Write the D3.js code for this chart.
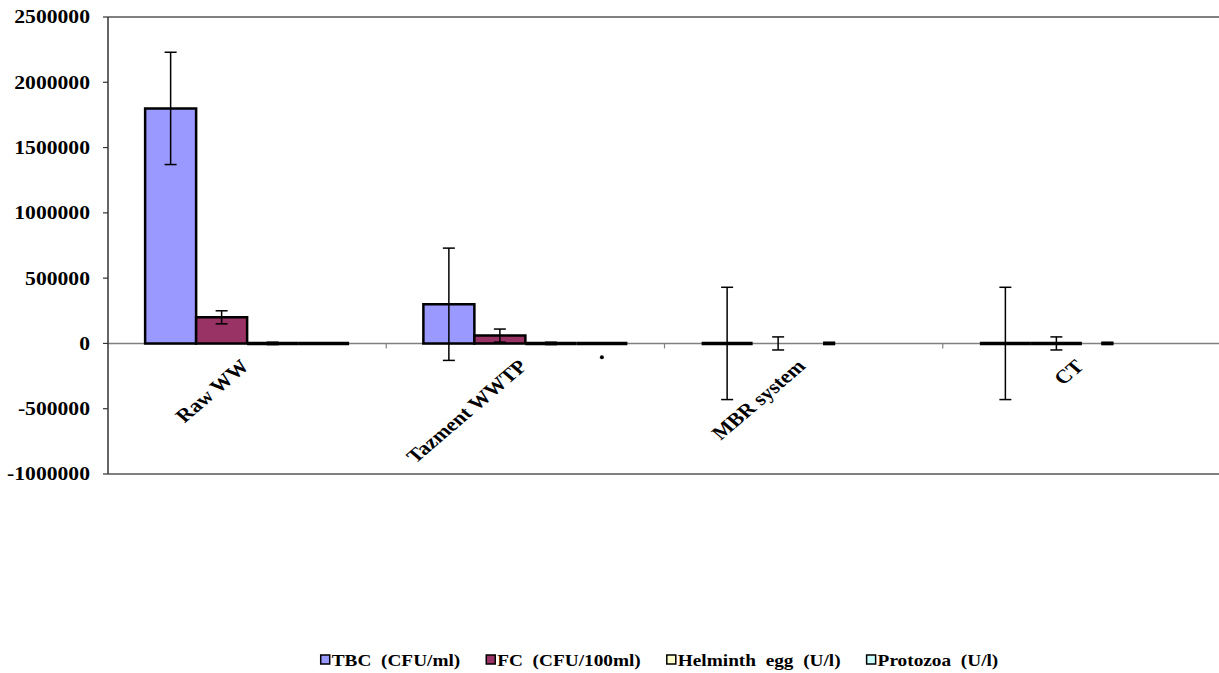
<!DOCTYPE html>
<html>
<head>
<meta charset="utf-8">
<script src="https://cdn.jsdelivr.net/npm/d3@7"></script>
<style>
  body { margin: 0; background: #fff; }
  text { font-family: "Liberation Serif", "Times New Roman", serif; font-weight: bold; fill: #000; }
</style>
</head>
<body>
<script>
// data
var categories = ["Raw WW", "Tazment WWTP", "MBR system", "CT"];
var seriesNames = ["TBC  (CFU/ml)", "FC  (CFU/100ml)", "Helminth  egg  (U/l)", "Protozoa  (U/l)"];
var seriesColors = ["#9999FF", "#993366", "#FFFFCC", "#CCFFFF"];

var tbc = [1800000, 300000, 0, 0];
var fc = [200000, 60000, null, 0];
var helminth = [0, 0, null, null];
var protozoa = [0, 0, null, null];

var tbcErr = [430000, 430000, 430000, 430000];
var fcErr = [50000, 50000, 50000, 50000];
var helminthErr = [0, 0, 0, 0];
var protozoaErr = [null, null, null, null];

// stray point below Tazment protozoa
var protozoaMark = [null, -105000, null, null];

var yTicks = [-1000000, -500000, 0, 500000, 1000000, 1500000, 2000000, 2500000];

var values = [tbc, fc, helminth, protozoa];
var errors = [tbcErr, fcErr, helminthErr, protozoaErr];

// the picture is stretched sideways a little
var SX = 1.17;

var W = 1219, H = 673;
var MARGINS = {left: 108, top: 17, bottom: 474};

var svg = d3.select("body").append("svg")
    .attr("width", W)
    .attr("height", H);

var x = d3.scaleBand().domain(categories).range([MARGINS.left, 1221]).padding(0);
var xSub = d3.scaleBand().domain(d3.range(4)).range([0, x.bandwidth()]).paddingInner(0).paddingOuter(0.728);
var y = d3.scaleLinear().domain([-1000000, 2500000]).range([MARGINS.bottom, MARGINS.top]);

// frame lines
svg.append("line").attr("x1", MARGINS.left).attr("x2", W).attr("y1", y(2500000)).attr("y2", y(2500000))
    .attr("stroke", "#808080").attr("stroke-width", 2);
svg.append("line").attr("x1", MARGINS.left).attr("x2", W).attr("y1", y(-1000000)).attr("y2", y(-1000000))
    .attr("stroke", "#808080").attr("stroke-width", 2);

// category axis at zero
var xAxis = svg.append("g").attr("transform", "translate(0," + y(0) + ")");
xAxis.append("line").attr("x1", MARGINS.left).attr("x2", W).attr("stroke", "#808080").attr("stroke-width", 1.5);
xAxis.selectAll(".xt").data(categories.slice(1)).enter().append("line")
    .attr("x1", function (d) { return x(d); })
    .attr("x2", function (d) { return x(d); })
    .attr("y1", 0).attr("y2", 5)
    .attr("stroke", "#808080").attr("stroke-width", 1.2);

// bars
var bars = [];
values.forEach(function (s, si) {
    s.forEach(function (v, ci) {
        if (v !== null) bars.push({s: si, c: ci, v: v});
    });
});

svg.selectAll(".bar").data(bars).enter().append("path")
    .attr("d", function (d) {
        var x0 = x(categories[d.c]) + xSub(d.s), x1 = x0 + xSub.bandwidth();
        return "M" + x0 + "," + y(0) + "V" + y(d.v) + "H" + x1 + "V" + y(0) + "Z";
    })
    .attr("fill", function (d) { return seriesColors[d.s]; })
    .attr("stroke", "#000")
    .attr("stroke-width", function (d) { return d.v === 0 ? 3.5 : 2.5; });

// error bars
var errs = [];
errors.forEach(function (s, si) {
    s.forEach(function (e, ci) {
        if (e !== null) errs.push({s: si, c: ci, v: values[si][ci] || 0, e: e});
    });
});

var eg = svg.selectAll(".err").data(errs).enter().append("g")
    .attr("stroke", "#000").attr("stroke-width", 1.5);
function cx(d) { return x(categories[d.c]) + xSub(d.s) + xSub.bandwidth() / 2; }
eg.append("line")
    .attr("x1", cx).attr("x2", cx)
    .attr("y1", function (d) { return y(d.v + d.e); })
    .attr("y2", function (d) { return y(d.v - d.e); });
eg.append("line")
    .attr("x1", function (d) { return cx(d) - 6; }).attr("x2", function (d) { return cx(d) + 6; })
    .attr("y1", function (d) { return y(d.v + d.e); }).attr("y2", function (d) { return y(d.v + d.e); })
    .attr("stroke-width", function (d) { return d.e === 0 ? 3.5 : 1.5; });
eg.append("line")
    .attr("x1", function (d) { return cx(d) - 6; }).attr("x2", function (d) { return cx(d) + 6; })
    .attr("y1", function (d) { return y(d.v - d.e); }).attr("y2", function (d) { return y(d.v - d.e); })
    .attr("stroke-width", function (d) { return d.e === 0 ? 3.5 : 1.5; });

// stray mark
var marks = [];
protozoaMark.forEach(function (v, ci) { if (v !== null) marks.push({s: 3, c: ci, v: v}); });
svg.selectAll(".mark").data(marks).enter().append("circle")
    .attr("cx", cx).attr("cy", function (d) { return y(d.v); })
    .attr("r", 2).attr("fill", "#000");

// value axis
var yAxis = svg.append("g");
yAxis.append("line").attr("x1", MARGINS.left).attr("x2", MARGINS.left)
    .attr("y1", y(2500000)).attr("y2", y(-1000000))
    .attr("stroke", "#333").attr("stroke-width", 1.5);
yAxis.selectAll(".yt").data(yTicks).enter().append("line")
    .attr("x1", MARGINS.left - 5).attr("x2", MARGINS.left)
    .attr("y1", function (d) { return y(d); }).attr("y2", function (d) { return y(d); })
    .attr("stroke", "#333").attr("stroke-width", 1.2);
yAxis.selectAll(".yl").data(yTicks).enter().append("text")
    .attr("transform", function (d) { return "translate(90," + y(d) + ") scale(" + SX + ",1)"; })
    .attr("text-anchor", "end")
    .attr("dy", "0.35em")
    .style("font-size", "18.5px")
    .text(function (d) { return d; });

// category labels
svg.selectAll(".xl").data(categories).enter().append("text")
    .attr("transform", function (d) {
        return "translate(" + (x(d) + x.bandwidth() / 2 + 3) + "," + (y(0) + 24) + ") scale(" + SX + ",1) rotate(-45)";
    })
    .attr("text-anchor", "end")
    .style("font-size", "19px")
    .text(function (d) { return d; });

// legend
var legend = svg.append("g").attr("transform", "translate(0,660)");
var items = legend.selectAll(".li").data(seriesNames).enter().append("g");
items.append("rect")
    .attr("x", 0).attr("y", -5).attr("width", 9).attr("height", 9)
    .attr("fill", function (d, i) { return seriesColors[i]; })
    .attr("stroke", "#000").attr("stroke-width", 1.5);
items.append("text")
    .attr("transform", "translate(11,0) scale(" + SX + ",1)")
    .attr("dy", "0.35em")
    .style("font-size", "16.5px")
    .style("white-space", "pre")
    .text(function (d) { return d; });

var widths = [];
items.each(function () { widths.push(11 + d3.select(this).select("text").node().getComputedTextLength() * SX); });
var gap = 26;
var total = d3.sum(widths) + gap * (widths.length - 1);
var pos = 659.5 - total / 2;
items.attr("transform", function (d, i) {
    var p = pos;
    pos += widths[i] + gap;
    return "translate(" + p + ",0)";
});
</script>
</body>
</html>
